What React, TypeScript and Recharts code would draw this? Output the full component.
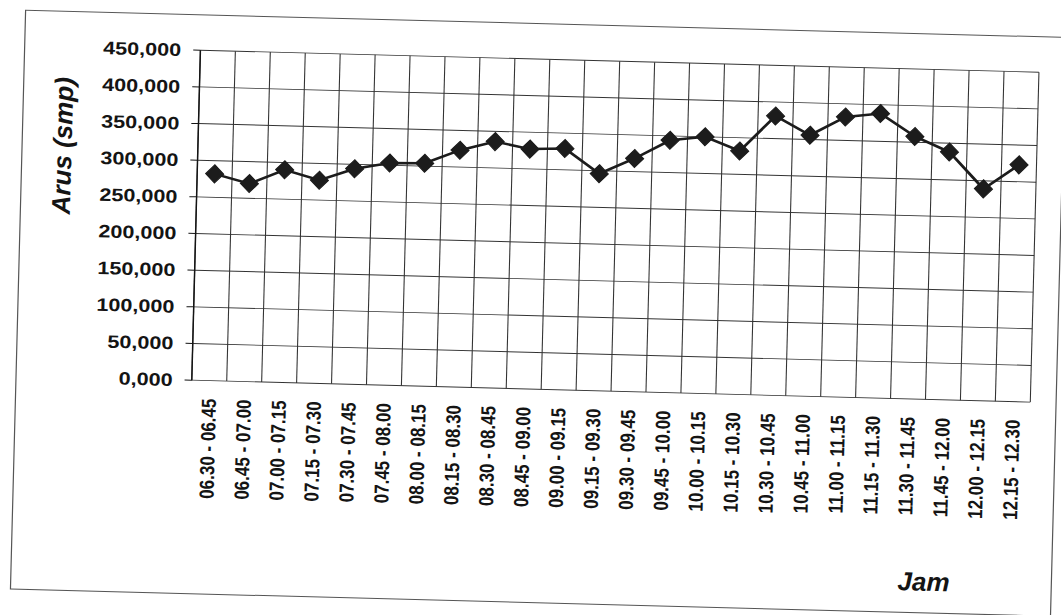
import { LineChart, Line, XAxis, YAxis, CartesianGrid, ReferenceLine } from 'recharts';

// Traffic flow per 15-minute period (smp)
const periods = [
  '06.30 - 06.45', '06.45 - 07.00', '07.00 - 07.15', '07.15 - 07.30',
  '07.30 - 07.45', '07.45 - 08.00', '08.00 - 08.15', '08.15 - 08.30',
  '08.30 - 08.45', '08.45 - 09.00', '09.00 - 09.15', '09.15 - 09.30',
  '09.30 - 09.45', '09.45 - 10.00', '10.00 - 10.15', '10.15 - 10.30',
  '10.30 - 10.45', '10.45 - 11.00', '11.00 - 11.15', '11.15 - 11.30',
  '11.30 - 11.45', '11.45 - 12.00', '12.00 - 12.15', '12.15 - 12.30',
];
const arus = [
  282, 270, 290, 277, 294, 303, 304, 323, 336, 327, 329, 296,
  318, 344, 350, 332, 381, 356, 382, 388, 358, 338, 289, 323,
];
const arusTicks = [0, 50, 100, 150, 200, 250, 300, 350, 400, 450];

const data = periods.map((period, i) => ({ i, period, arus: arus[i] }));
// category boundaries, where the vertical grid and tick marks sit
const slotEdges = [...periods.map((_, i) => i - 0.5), periods.length - 0.5];
const slotCenters = periods.map((_, i) => i);

const FONT = '"Liberation Sans", Arial, Helvetica, sans-serif';
const INK = '#141414';
const GRID = '#333';
const STRETCH = 1.2;
const CHART_W = 868;
const CHART_H = 580;

const fmt = (v: number) => v.toFixed(3).replace('.', ',');

function PeriodTick({ x, y, payload }: any) {
  return (
    <text
      x={x}
      y={y}
      transform={`rotate(-90 ${x} ${y})`}
      textAnchor="end"
      dy="0.36em"
      fill={INK}
      fontSize={17}
      fontWeight={700}
      fontFamily={FONT}
    >
      {periods[payload.value]}
    </text>
  );
}

const NoLabel = () => <g />;

function Diamond({ cx, cy, index }: any) {
  if (cx == null || cy == null) return <g key={index} />;
  const w = 7.5;
  const h = 9;
  return (
    <polygon
      key={index}
      points={`${cx},${cy - h} ${cx + w},${cy} ${cx},${cy + h} ${cx - w},${cy}`}
      fill="#1c1c1c"
      stroke="#1c1c1c"
      strokeWidth={1}
    />
  );
}

function AxisTitle({ x, y, text, vertical }: { x: number; y: number; text: string; vertical?: boolean }) {
  const t = `translate(${x} ${y}) scale(${1 / STRETCH} 1)${vertical ? ' rotate(-90)' : ''}`;
  return (
    <text
      transform={t}
      textAnchor="middle"
      dy="0.36em"
      fill={INK}
      fontSize={26}
      fontWeight={700}
      fontStyle="italic"
      fontFamily={FONT}
    >
      {text}
    </text>
  );
}

export default function App() {
  return (
    <div
      style={{
        position: 'absolute',
        left: 0,
        top: 0,
        width: 1061,
        height: 615,
        overflow: 'hidden',
        background: '#fff',
      }}
    >
      <div
        style={{
          position: 'absolute',
          left: 88.5,
          top: 0,
          width: 884,
          height: 615,
          transformOrigin: '50% 50%',
          transform: `rotate(1.5deg) scaleX(${STRETCH})`,
        }}
      >
        <div style={{ position: 'absolute', left: 13.7, top: 22.5, width: CHART_W, height: CHART_H }}>
          <LineChart
            width={CHART_W}
            height={CHART_H}
            data={data}
            margin={{ top: 36, right: 22, bottom: 64, left: 0 }}
          >
            <CartesianGrid stroke={GRID} strokeWidth={0.9} horizontal vertical={false} />
            <XAxis
              xAxisId="grid"
              dataKey="i"
              type="number"
              domain={[-0.5, periods.length - 0.5]}
              ticks={slotEdges}
              interval={0}
              tick={<NoLabel />}
              tickSize={6}
              height={0}
              axisLine={{ stroke: INK, strokeWidth: 1.2 }}
              tickLine={{ stroke: INK, strokeWidth: 1 }}
            />
            <XAxis
              xAxisId="cat"
              dataKey="i"
              type="number"
              domain={[-0.5, periods.length - 0.5]}
              ticks={slotCenters}
              interval={0}
              tick={<PeriodTick />}
              tickSize={0}
              tickMargin={18}
              height={150}
              axisLine={false}
              tickLine={false}
            />
            <YAxis
              type="number"
              domain={[0, 450]}
              ticks={arusTicks}
              interval={0}
              tickFormatter={fmt}
              width={147}
              tickSize={6}
              tickMargin={10}
              axisLine={{ stroke: INK, strokeWidth: 1.2 }}
              tickLine={{ stroke: INK, strokeWidth: 1 }}
              tick={{ fill: INK, fontSize: 18, fontWeight: 700, fontFamily: FONT }}
            />
            {slotEdges.map((v) => (
              <ReferenceLine
                key={v}
                xAxisId="grid"
                x={v}
                stroke={GRID}
                strokeWidth={0.9}
                ifOverflow="extendDomain"
              />
            ))}
            <Line
              xAxisId="cat"
              type="linear"
              dataKey="arus"
              stroke="#1c1c1c"
              strokeWidth={2.5}
              dot={(p: any) => <Diamond key={p.index} {...p} />}
              activeDot={false}
              isAnimationActive={false}
            />
          </LineChart>
          <svg
            width={CHART_W}
            height={CHART_H}
            style={{ position: 'absolute', left: 0, top: 0, pointerEvents: 'none', overflow: 'visible' }}
          >
            <AxisTitle x={34} y={135} text="Arus (smp)" vertical />
            <AxisTitle x={761} y={548} text="Jam" />
          </svg>
          <div
            style={{
              position: 'absolute',
              left: 0,
              top: 0,
              width: CHART_W,
              height: CHART_H,
              boxSizing: 'border-box',
              border: '1px solid #555',
              pointerEvents: 'none',
            }}
          />
        </div>
      </div>
    </div>
  );
}
